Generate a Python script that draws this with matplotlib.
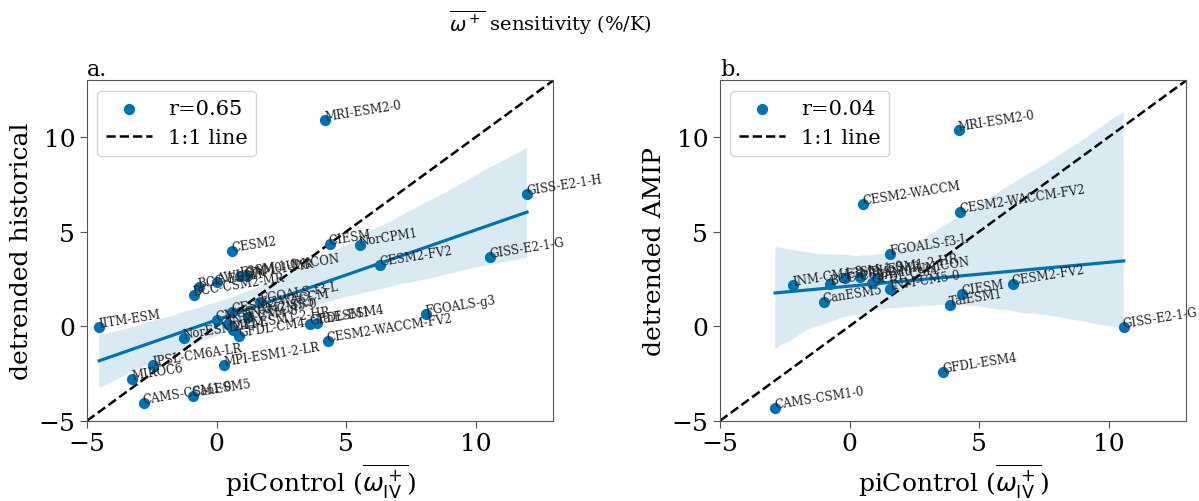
import numpy as np
import matplotlib
matplotlib.use("Agg")
import matplotlib.pyplot as plt
import seaborn as sns

# datos: piControl (x) contra historical / AMIP (y)
hist_models = ["IITM-ESM", "MRI-ESM2-0", "GISS-E2-1-H", "GISS-E2-1-G", "CIESM", "NorCPM1",
               "CESM2-FV2", "CESM2", "BCC-CSM2-MR", "BCC-ESM1", "AWI-CM-1-1-MR", "E3SM-1-0",
               "SAM0-UNICON", "CESM2-WACCM", "CMCC-CM2-SR5", "FGOALS-f3-L", "INM-CM5-0",
               "INM-CM4-8", "MPI-ESM1-2-HR", "GFDL-CM4", "NorESM2-LM", "GFDL-ESM4", "TaiESM1",
               "CESM2-WACCM-FV2", "FGOALS-g3", "MPI-ESM1-2-LR", "IPSL-CM6A-LR", "MIROC6",
               "CAMS-CSM1-0", "CanESM5"]
hist_x = [-4.53, 4.2, 11.98, 10.57, 4.36, 5.52,
          6.32, 0.59, -0.88, -0.69, 0.02, 0.92,
          1.17, 0.6, 0.0, 1.67, 1.2,
          0.45, 0.62, 0.87, -1.27, 3.62, 3.89,
          4.28, 8.09, 0.29, -2.46, -3.26,
          -2.82, -0.92]
hist_y = [-0.05, 10.9, 6.98, 3.63, 4.34, 4.27,
          3.23, 3.98, 1.66, 2.05, 2.34, 2.66,
          2.66, 0.74, 0.3, 1.28, 0.5,
          0.1, -0.23, -0.5, -0.64, 0.12, 0.15,
          -0.76, 0.65, -2.05, -2.08, -2.79,
          -4.08, -3.67]

amip_models = ["MRI-ESM2-0", "CESM2-WACCM", "CESM2-WACCM-FV2", "FGOALS-f3-L", "INM-CM4-8",
               "BCC-CSM2-MR", "E3SM-1-0", "MPI-ESM1-2-HR", "SAM0-UNICON", "GFDL-CM4",
               "INM-CM5-0", "CanESM5", "CIESM", "TaiESM1", "CESM2-FV2", "GFDL-ESM4",
               "CAMS-CSM1-0", "GISS-E2-1-G"]
amip_x = [4.22, 0.53, 4.28, 1.57, -2.17,
          -0.75, -0.17, 0.41, 1.06, 0.87,
          1.57, -1.0, 4.35, 3.87, 6.29, 3.61,
          -2.87, 10.58]
amip_y = [10.39, 6.47, 6.05, 3.83, 2.2,
          2.24, 2.55, 2.6, 2.5, 2.3,
          1.97, 1.27, 1.71, 1.13, 2.24, -2.4,
          -4.34, -0.05]

r_values = [0.65, 0.04]
ylabels = ["detrended historical", "detrended AMIP"]
paneles = ["a.", "b."]

AZUL = "#0173b2"

plt.rcParams["font.family"] = "DejaVu Serif"

fig = plt.figure(figsize=(11.99, 5.02), dpi=100)
ax1 = fig.add_axes([0.0726, 0.160, 0.389, 0.678])
ax2 = fig.add_axes([0.6005, 0.160, 0.389, 0.678])

datos = [(hist_models, hist_x, hist_y), (amip_models, amip_x, amip_y)]

for i, ax in enumerate([ax1, ax2]):
    nombres, xs, ys = datos[i]
    sns.regplot(x=np.array(xs), y=np.array(ys), ax=ax, scatter=False, color=AZUL,
                seed=3, line_kws={"lw": 2.3})
    ax.scatter(xs, ys, s=65, color=AZUL, linewidths=0, zorder=3,
               label="r=%.2f" % r_values[i])
    ax.plot([-5, 13], [-5, 13], "k--", lw=1.8, label="1:1 line")
    for nombre, x, y in zip(nombres, xs, ys):
        ax.text(x, y, nombre, fontsize=8.5, rotation=9, rotation_mode="anchor",
                color="#222222", zorder=4)
    ax.set_xlim(-5, 13)
    ax.set_ylim(-5, 13)
    ax.set_xticks([-5, 0, 5, 10])
    ax.set_yticks([-5, 0, 5, 10])
    ax.tick_params(labelsize=18, length=5, color="#555555")
    for sp in ax.spines.values():
        sp.set_color("#555555")
    ax.set_xlabel(r"piControl ($\overline{\omega^+_{\mathrm{IV}}}$)", fontsize=18)
    ax.set_ylabel(ylabels[i], fontsize=18)
    ax.set_title(paneles[i], loc="left", fontsize=16, pad=4)
    ax.legend(loc="upper left", fontsize=15, handlelength=2.2)

fig.text(0.459, 0.955, r"$\overline{\omega^+}$ sensitivity (%/K)", ha="center",
         va="center", fontsize=14)

plt.savefig("out.png", dpi=100)
